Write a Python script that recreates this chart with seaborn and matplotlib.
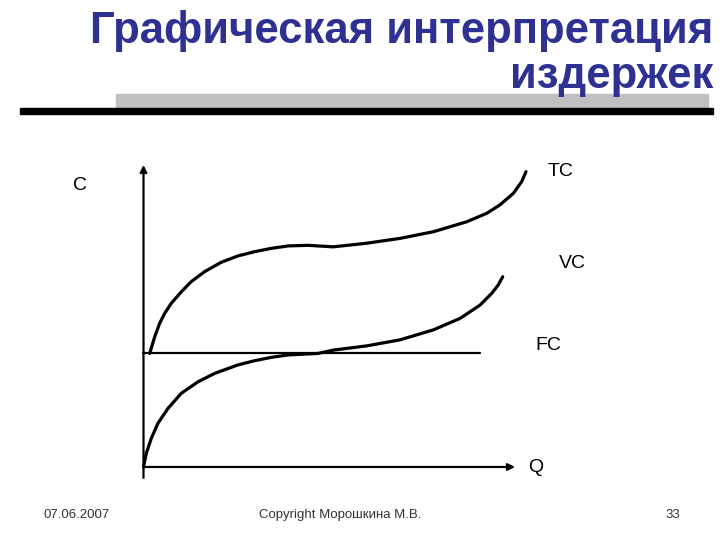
import matplotlib
matplotlib.use("Agg")
import matplotlib.pyplot as plt
from matplotlib.patches import Rectangle
import pandas as pd
import seaborn as sns

# curve data (Q, C in arbitrary units, axis arrows end at 100)
vc_q = [0, 0.75, 2.1, 3.9, 6.59, 10.17, 14.67, 19.17, 25.44, 29.93, 34.4, 38.9, 46.97,
        51.09, 60.08, 69.04, 78.01, 85.2, 90.58, 93.73, 95.5, 96.69]
vc_c = [0, 4.5, 9.5, 14.5, 19.4, 24.4, 28.2, 31.0, 33.8, 35.2, 36.3, 37.1, 37.6,
        38.7, 40.1, 42.1, 45.4, 49.2, 53.6, 57.5, 60.3, 63.0]

tc_q = [1.67, 3.01, 4.36, 5.71, 7.48, 10.17, 12.87, 16.47, 20.94, 25.44, 29.93, 34.4, 38.9,
        44.28, 51.09, 60.08, 69.04, 78.01, 87.0, 92.38, 95.96, 99.54, 101.8, 102.96]
tc_c = [37.6, 43.1, 47.6, 50.9, 54.2, 58.0, 61.4, 64.7, 67.8, 69.9, 71.3, 72.4, 73.2,
        73.4, 72.9, 74.1, 75.7, 77.9, 81.2, 84.0, 86.8, 90.6, 94.5, 97.8]

fc_q = [0, 90.6]
fc_c = [37.6, 37.6]

curve_labels = ["TC", "VC", "FC"]
title_lines = ["Графическая интерпретация", "издержек"]
footer = ["07.06.2007", "Copyright Морошкина М.В.", "33"]

sns.set_style("white")
plt.rcParams['font.family'] = ['Liberation Sans', 'DejaVu Sans']

fig = plt.figure(figsize=(7.2, 5.4), dpi=100)
W, H = 720, 540

def fx(px):
    return px / W

def fy(py):
    return 1 - py / H

ax = fig.add_axes([0.1477, 0.0793, 0.6192, 0.6431])
ax.set_xlim(-10, 110)
ax.set_ylim(-10, 105)
ax.axis("off")

df = pd.concat([
    pd.DataFrame({"Q": vc_q, "C": vc_c, "curve": "VC"}),
    pd.DataFrame({"Q": tc_q, "C": tc_c, "curve": "TC"}),
])
sns.lineplot(data=df, x="Q", y="C", units="curve", estimator=None, sort=False,
             color="black", linewidth=2.3, ax=ax, legend=False)
sns.lineplot(x=fc_q, y=fc_c, color="black", linewidth=1.6, ax=ax)
for ln in ax.lines:
    ln.set_solid_joinstyle("round")
    ln.set_solid_capstyle("round")

# axes with arrows
arrow = dict(arrowstyle="-|>", color="black", lw=1.6, mutation_scale=10, shrinkA=0, shrinkB=0)
ax.annotate("", xy=(0, 100), xytext=(0, -3.6), arrowprops=arrow, annotation_clip=False)
ax.annotate("", xy=(100, 0), xytext=(0, 0), arrowprops=arrow, annotation_clip=False)

lab = dict(fontsize=14, ha="center", va="center", color="black")
fig.text(fx(80), fy(185), "C", **lab)
fig.text(fx(561), fy(172), curve_labels[0], **lab)
fig.text(fx(572), fy(264), curve_labels[1], **lab)
fig.text(fx(548), fy(346), curve_labels[2], **lab)
fig.text(fx(536), fy(468), "Q", **lab)

# title
title_kw = dict(fontsize=31.5, fontweight="bold", color="#2e3192", ha="right", va="baseline")
fig.text(fx(713), fy(43), title_lines[0], **title_kw)
fig.text(fx(713), fy(88), title_lines[1], **title_kw)

# decorative bars under the title
fig.patches.append(Rectangle((fx(116), fy(107)), fx(708) - fx(116), fy(94) - fy(107),
                             transform=fig.transFigure, color="#c0c0c0", zorder=0))
fig.patches.append(Rectangle((fx(20), fy(114)), fx(713) - fx(20), fy(108) - fy(114),
                             transform=fig.transFigure, color="black", zorder=1))

# footer
foot = dict(fontsize=9.5, va="center", color="#333333")
fig.text(fx(44), fy(515), footer[0], ha="left", **foot)
fig.text(fx(340), fy(515), footer[1], ha="center", **foot)
fig.text(fx(680), fy(515), footer[2], ha="right", **foot)

fig.savefig("out.png", dpi=100, facecolor="white")
